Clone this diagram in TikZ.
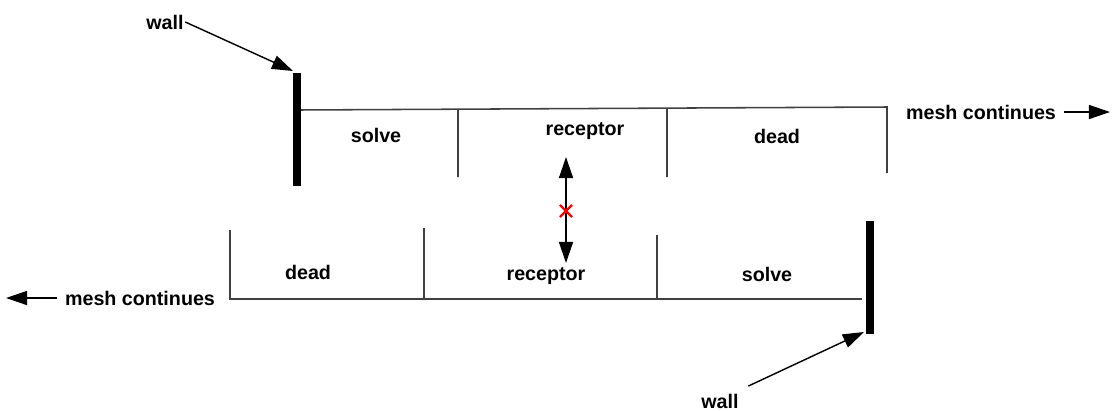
\documentclass[tikz,border=0pt]{standalone}
\usepackage{fontspec}
\setmainfont{Liberation Sans}
\usetikzlibrary{arrows.meta,shapes.misc}
\tikzset{
  lbl/.style={font=\fontsize{14}{16}\selectfont\bfseries, inner sep=1pt},
  mesh/.style={line width=1.1pt, draw=black!75},
  wallbar/.style={line width=5.5pt},
  pointer/.style={line width=1pt, -{Triangle[length=15pt,width=10pt]}}
}
\begin{document}
\begin{tikzpicture}[x=0.025cm, y=-0.025cm]
        \useasboundingbox (0,0) rectangle (1115,410);
        % upper mesh
        \draw[mesh] (297,110) -- (887,107) -- (887,173)
              (458,110) -- (458,177)
              (667,108) -- (667,177);
        \draw[wallbar] (297,73) -- (297,186);
        \node[lbl] (solveA) at (376,135) {solve};
        \node[lbl] (recA) at (585,131) {receptor};
        \node[lbl] (deadA) at (777,136) {dead};
        \node[lbl] (meshA) at (981,112) {mesh continues};
        \coordinate (endA) at (1110,112);
        \draw[pointer] (meshA.east) ++(6,0) -- (endA);
        % lower mesh
        \draw[mesh] (230,230) -- (230,299) -- (862,299)
              (424,228) -- (424,298)
              (657,235) -- (657,300);
        \draw[wallbar] (870,221) -- (870,334);
        \node[lbl] (deadB) at (308,272) {dead};
        \node[lbl] (recB) at (546,276) {receptor};
        \node[lbl] (solveB) at (767,274) {solve};
        \node[lbl] (meshB) at (140,298) {mesh continues};
        \coordinate (endB) at (6,298);
        \draw[pointer] (meshB.west) ++(-6,0) -- (endB);
        % walls
        \node[lbl] (wallA) at (165,22) {wall};
        \coordinate (wallAtop) at (293,71);
        \draw[pointer] (wallA.east) -- (wallAtop);
        \node[lbl] (wallB) at (720,401) {wall};
        \coordinate (wallBbot) at (864,332);
        \draw[pointer] (wallB.north east) ++(8,-6) -- (wallBbot);
        % contact point
        \coordinate (up) at (566,157);
        \coordinate (down) at (566,263);
        \draw[line width=1pt, {Triangle[length=15pt,width=10pt]}-{Triangle[length=15pt,width=10pt]}] (up) -- (down);
        \node[cross out, draw=red, line width=1.6pt, minimum size=7pt, inner sep=0pt] (cross) at (566,211) {};
    \end{tikzpicture}
\end{document}
